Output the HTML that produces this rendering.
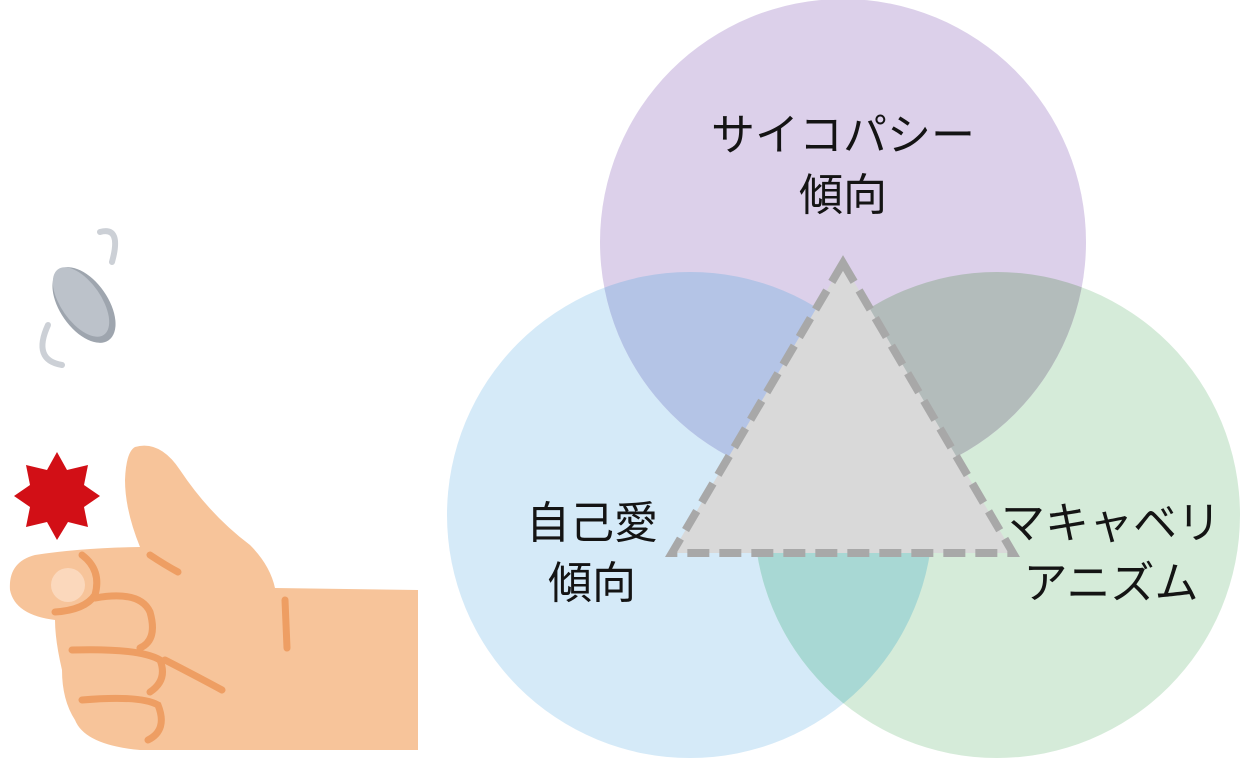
<!DOCTYPE html>
<html><head><meta charset="utf-8"><style>
html,body{margin:0;padding:0;background:#fff;width:1240px;height:760px;overflow:hidden}
svg{display:block}
text{font-family:"Liberation Sans","Noto Sans CJK JP",sans-serif;font-size:44px;fill:#141414}
</style></head><body>
<svg width="1240" height="760" viewBox="0 0 1240 760" xmlns="http://www.w3.org/2000/svg">
<defs>
<clipPath id="cp"><circle cx="843" cy="242" r="243"/></clipPath>
<clipPath id="cb"><circle cx="690" cy="515" r="243"/></clipPath>
<clipPath id="cg"><circle cx="997" cy="515" r="243"/></clipPath>
</defs>
<circle cx="690" cy="515" r="243" fill="#d5eaf8"/>
<circle cx="997" cy="515" r="243" fill="#d5ebd9"/>
<circle cx="843" cy="242" r="243" fill="#dcd0ea"/>
<circle cx="690" cy="515" r="243" fill="#b4c4e6" clip-path="url(#cp)"/>
<circle cx="997" cy="515" r="243" fill="#b3bcbb" clip-path="url(#cp)"/>
<circle cx="997" cy="515" r="243" fill="#a8d8d4" clip-path="url(#cb)"/>
<polygon points="843,263 672,553 1013,553" fill="#d9d9d9" stroke="#a8a8a8" stroke-width="8" stroke-dasharray="22,10"/>
<text x="843" y="150" text-anchor="middle">サイコパシー</text>
<text x="843" y="210" text-anchor="middle">傾向</text>
<text x="592" y="538" text-anchor="middle">自己愛</text>
<text x="592" y="598" text-anchor="middle">傾向</text>
<text x="1111" y="538" text-anchor="middle">マキャベリ</text>
<text x="1111" y="598" text-anchor="middle">アニズム</text>
<!-- coin -->
<path d="M100 232 Q122 226 112 262" fill="none" stroke="#ccd0d6" stroke-width="6" stroke-linecap="round"/>
<path d="M48 325 Q32 360 62 365" fill="none" stroke="#ccd0d6" stroke-width="6" stroke-linecap="round"/>
<ellipse cx="84" cy="305" rx="43" ry="24" transform="rotate(55 84 305)" fill="#9ea5ae"/>
<ellipse cx="81" cy="302" rx="40" ry="20" transform="rotate(55 81 302)" fill="#bcc2ca"/>
<!-- red burst -->
<polygon points="57,452 67,470 88,465 84,485 100,496 84,507 88,527 68,522 57,540 47,522 26,527 30,507 14,496 30,485 26,465 47,470" fill="#d20f16"/>
<!-- hand -->
<path d="M135 447 Q160 440 180 470 Q210 515 250 545 Q270 565 275 588 L418 590 L418 750 L140 750 Q85 745 75 720 Q62 700 62 670 Q55 640 55 620 Q15 615 10 590 Q8 562 35 555 Q80 548 140 547 Q125 510 125 480 Q126 452 135 447 Z" fill="#f7c49a"/>
<circle cx="68" cy="585" r="17" fill="#fbd8bc"/>
<g fill="none" stroke="#ee9e63" stroke-width="7" stroke-linecap="round">
<path d="M82 555 Q102 570 95 595 Q85 610 55 612"/>
<path d="M95 598 Q140 590 150 612 Q158 640 140 648"/>
<path d="M72 650 Q140 648 160 660 Q168 680 150 692"/>
<path d="M82 700 Q140 695 158 705 Q168 730 148 740"/>
<path d="M150 555 Q165 565 178 572"/>
<path d="M165 660 Q200 678 222 690"/>
<path d="M285 600 L287 648"/>
</g>
</svg>
</body></html>
